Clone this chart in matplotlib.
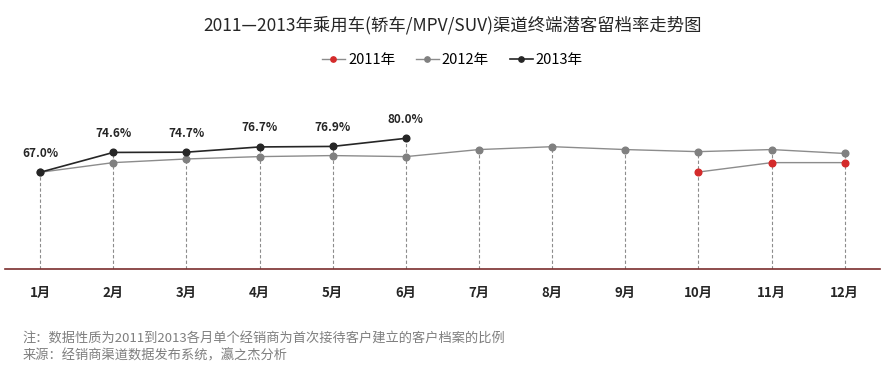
import numpy as np
import matplotlib.pyplot as plt

plt.rcParams['font.family'] = ['Noto Sans CJK SC', 'DejaVu Sans']

# data (%)
months = ["1月", "2月", "3月", "4月", "5月", "6月", "7月", "8月", "9月", "10月", "11月", "12月"]
rate_2011 = [None, None, None, None, None, None, None, None, None, 67.1, 70.7, 70.7]
rate_2012 = [67.0, 70.7, 72.1, 73.0, 73.4, 73.0, 75.7, 76.8, 75.7, 74.9, 75.7, 74.2]
rate_2013 = [67.0, 74.6, 74.7, 76.7, 76.9, 80.0, None, None, None, None, None, None]
labels_2013 = ["67.0%", "74.6%", "74.7%", "76.7%", "76.9%", "80.0%"]

x = np.arange(len(months))

def to_arr(vals):
    return np.array([np.nan if v is None else v for v in vals], dtype=float)

y11 = to_arr(rate_2011)
y12 = to_arr(rate_2012)
y13 = to_arr(rate_2013)

fig = plt.figure(figsize=(8.87, 3.76), dpi=100)
ax = fig.add_axes([0.0056, 0.2846, 0.9864, 0.449])

# drop lines from highest point to the axis
top = np.nanmax(np.vstack([y11, y12, y13]), axis=0)
ax.vlines(x, 30, top, colors="#8c8c8c", linestyles=(0, (3, 2)), lw=0.8, zorder=1)

ax.plot(x, y11, color="#8c8c8c", lw=1, marker="o", ms=4.8, mfc="#d42a2a", mec="#d42a2a", label="2011年", zorder=3)
ax.plot(x, y12, color="#8c8c8c", lw=1, marker="o", ms=4.8, mfc="#808080", mec="#808080", label="2012年", zorder=3)
ax.plot(x, y13, color="#262626", lw=1.2, marker="o", ms=4.8, mfc="#262626", mec="#262626", label="2013年", zorder=4)

for i, lab in enumerate(labels_2013):
    ax.annotate(lab, (x[i], y13[i]), xytext=(0, 9), textcoords="offset points",
                ha="center", va="bottom", fontsize=8.5, fontweight="bold", color="#262626")

ax.set_xlim(-0.48, 11.48)
ax.set_ylim(30, 94.6)
for s in ["top", "right", "left"]:
    ax.spines[s].set_visible(False)
ax.spines["bottom"].set_color("#7a2e2e")
ax.spines["bottom"].set_linewidth(1.2)
ax.set_yticks([])
ax.set_xticks(x)
ax.set_xticklabels(months, fontsize=9.5, fontweight="bold", color="#262626")
ax.tick_params(axis="x", length=0, pad=12)

fig.text(0.51, 0.933, "2011—2013年乘用车(轿车/MPV/SUV)渠道终端潜客留档率走势图",
         ha="center", va="center", fontsize=12.5, color="#262626")
fig.legend(loc="center", bbox_to_anchor=(0.51, 0.84), ncol=3, frameon=False,
           fontsize=10.5, handlelength=1.6, columnspacing=1.4, handletextpad=0.2,
           markerscale=0.8)

fig.text(0.025, 0.097, "注：数据性质为2011到2013各月单个经销商为首次接待客户建立的客户档案的比例",
         ha="left", va="center", fontsize=9.5, color="#7f7f7f")
fig.text(0.025, 0.053, "来源：经销商渠道数据发布系统，瀛之杰分析",
         ha="left", va="center", fontsize=9.5, color="#7f7f7f")

fig.savefig("out.png", dpi=100)
